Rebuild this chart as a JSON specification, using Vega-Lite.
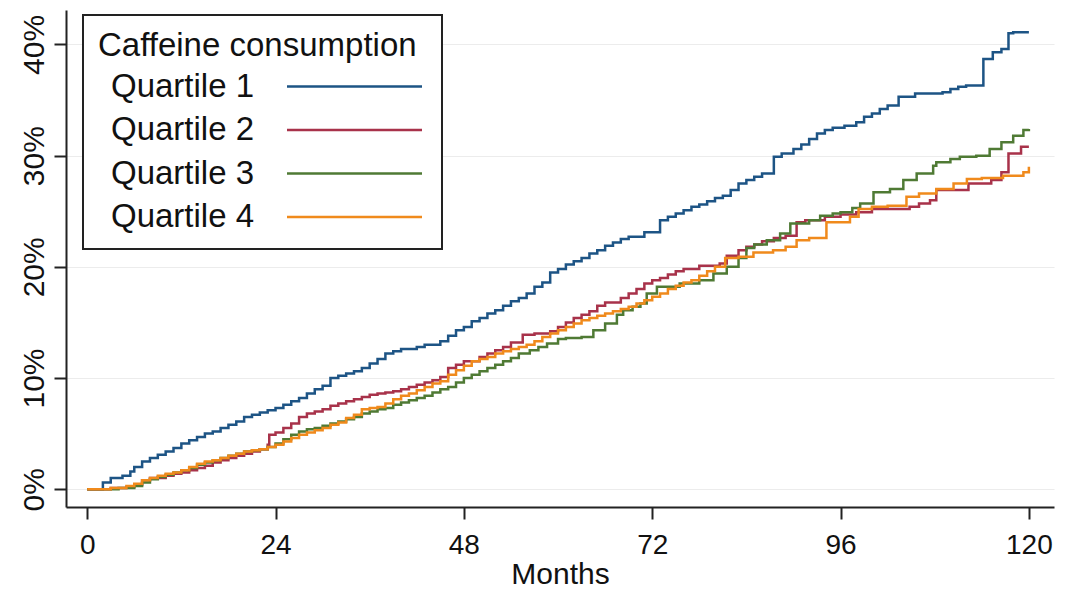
{
  "$schema": "https://vega.github.io/schema/vega-lite/v6.json",
  "autosize": {"type": "none"},
  "padding": {"left": 66, "top": 10, "right": 16, "bottom": 85},
  "width": 988,
  "height": 497,
  "background": "white",
  "config": {
    "font": "Liberation Sans",
    "view": {"stroke": null},
    "axis": {
      "domainColor": "#222222",
      "domainWidth": 2,
      "tickColor": "#222222",
      "tickWidth": 2,
      "tickSize": 12,
      "labelColor": "#111111",
      "titleColor": "#111111",
      "labelFont": "Liberation Sans",
      "titleFont": "Liberation Sans",
      "titleFontWeight": "normal",
      "gridColor": "#ececec",
      "gridWidth": 1.2
    },
    "legend": {
      "titleFont": "Liberation Sans",
      "labelFont": "Liberation Sans",
      "strokeWidth": 2
    }
  },
  "datasets": {
    "km": [
      {"q":"Quartile 1","m":0,"p":0},{"q":"Quartile 1","m":2,"p":0.6},{"q":"Quartile 1","m":3,"p":1.0},{"q":"Quartile 1","m":4.5,"p":1.2},{"q":"Quartile 1","m":5.5,"p":1.6},{"q":"Quartile 1","m":6,"p":2.0},{"q":"Quartile 1","m":7,"p":2.5},{"q":"Quartile 1","m":8,"p":2.8},{"q":"Quartile 1","m":9,"p":3.1},{"q":"Quartile 1","m":10,"p":3.4},{"q":"Quartile 1","m":11,"p":3.7},{"q":"Quartile 1","m":12,"p":4.1},{"q":"Quartile 1","m":13,"p":4.4},{"q":"Quartile 1","m":14,"p":4.7},{"q":"Quartile 1","m":15,"p":5.0},{"q":"Quartile 1","m":16,"p":5.2},{"q":"Quartile 1","m":17,"p":5.5},{"q":"Quartile 1","m":18,"p":5.8},{"q":"Quartile 1","m":19,"p":6.1},{"q":"Quartile 1","m":20,"p":6.5},{"q":"Quartile 1","m":21,"p":6.7},{"q":"Quartile 1","m":22,"p":6.9},{"q":"Quartile 1","m":23,"p":7.1},{"q":"Quartile 1","m":24,"p":7.3},{"q":"Quartile 1","m":25,"p":7.6},{"q":"Quartile 1","m":26,"p":7.9},{"q":"Quartile 1","m":27,"p":8.2},{"q":"Quartile 1","m":28,"p":8.6},{"q":"Quartile 1","m":29,"p":9.0},{"q":"Quartile 1","m":30,"p":9.3},{"q":"Quartile 1","m":31,"p":10.0},{"q":"Quartile 1","m":32,"p":10.2},{"q":"Quartile 1","m":33,"p":10.4},{"q":"Quartile 1","m":34,"p":10.6},{"q":"Quartile 1","m":35,"p":10.9},{"q":"Quartile 1","m":36,"p":11.3},{"q":"Quartile 1","m":37,"p":11.7},{"q":"Quartile 1","m":38,"p":12.2},{"q":"Quartile 1","m":39,"p":12.4},{"q":"Quartile 1","m":40,"p":12.6},{"q":"Quartile 1","m":42,"p":12.8},{"q":"Quartile 1","m":43,"p":13.0},{"q":"Quartile 1","m":45,"p":13.3},{"q":"Quartile 1","m":46,"p":13.8},{"q":"Quartile 1","m":47,"p":14.3},{"q":"Quartile 1","m":48,"p":14.6},{"q":"Quartile 1","m":49,"p":15.1},{"q":"Quartile 1","m":50,"p":15.4},{"q":"Quartile 1","m":51,"p":15.8},{"q":"Quartile 1","m":52,"p":16.1},{"q":"Quartile 1","m":53,"p":16.5},{"q":"Quartile 1","m":54,"p":16.9},{"q":"Quartile 1","m":55,"p":17.2},{"q":"Quartile 1","m":56,"p":17.6},{"q":"Quartile 1","m":57,"p":18.2},{"q":"Quartile 1","m":58,"p":18.6},{"q":"Quartile 1","m":59,"p":19.5},{"q":"Quartile 1","m":60,"p":19.8},{"q":"Quartile 1","m":61,"p":20.2},{"q":"Quartile 1","m":62,"p":20.5},{"q":"Quartile 1","m":63,"p":20.8},{"q":"Quartile 1","m":64,"p":21.2},{"q":"Quartile 1","m":65,"p":21.5},{"q":"Quartile 1","m":66,"p":21.9},{"q":"Quartile 1","m":67,"p":22.2},{"q":"Quartile 1","m":68,"p":22.5},{"q":"Quartile 1","m":69,"p":22.7},{"q":"Quartile 1","m":71,"p":23.1},{"q":"Quartile 1","m":73,"p":24.2},{"q":"Quartile 1","m":74,"p":24.5},{"q":"Quartile 1","m":75,"p":24.8},{"q":"Quartile 1","m":76,"p":25.1},{"q":"Quartile 1","m":77,"p":25.4},{"q":"Quartile 1","m":78,"p":25.6},{"q":"Quartile 1","m":79,"p":25.9},{"q":"Quartile 1","m":80,"p":26.2},{"q":"Quartile 1","m":81,"p":26.4},{"q":"Quartile 1","m":82,"p":26.9},{"q":"Quartile 1","m":83,"p":27.5},{"q":"Quartile 1","m":84,"p":27.8},{"q":"Quartile 1","m":85,"p":28.1},{"q":"Quartile 1","m":86,"p":28.4},{"q":"Quartile 1","m":87.5,"p":29.9},{"q":"Quartile 1","m":88.5,"p":30.2},{"q":"Quartile 1","m":90,"p":30.6},{"q":"Quartile 1","m":91,"p":31.0},{"q":"Quartile 1","m":92,"p":31.5},{"q":"Quartile 1","m":93,"p":32.0},{"q":"Quartile 1","m":94,"p":32.3},{"q":"Quartile 1","m":95,"p":32.5},{"q":"Quartile 1","m":96.5,"p":32.7},{"q":"Quartile 1","m":98,"p":33.0},{"q":"Quartile 1","m":99,"p":33.5},{"q":"Quartile 1","m":100,"p":33.8},{"q":"Quartile 1","m":101,"p":34.2},{"q":"Quartile 1","m":102,"p":34.5},{"q":"Quartile 1","m":103.4,"p":35.3},{"q":"Quartile 1","m":105.5,"p":35.6},{"q":"Quartile 1","m":109,"p":35.7},{"q":"Quartile 1","m":110,"p":36.0},{"q":"Quartile 1","m":111,"p":36.2},{"q":"Quartile 1","m":112,"p":36.3},{"q":"Quartile 1","m":114.2,"p":38.7},{"q":"Quartile 1","m":115.4,"p":39.3},{"q":"Quartile 1","m":116.5,"p":39.6},{"q":"Quartile 1","m":117.4,"p":41.0},{"q":"Quartile 1","m":118,"p":41.1},{"q":"Quartile 1","m":120,"p":41.1},

      {"q":"Quartile 2","m":0,"p":0},{"q":"Quartile 2","m":3,"p":0.1},{"q":"Quartile 2","m":5,"p":0.2},{"q":"Quartile 2","m":6,"p":0.4},{"q":"Quartile 2","m":7,"p":0.8},{"q":"Quartile 2","m":8,"p":1.0},{"q":"Quartile 2","m":10,"p":1.2},{"q":"Quartile 2","m":11,"p":1.4},{"q":"Quartile 2","m":12,"p":1.5},{"q":"Quartile 2","m":13,"p":1.7},{"q":"Quartile 2","m":14,"p":1.9},{"q":"Quartile 2","m":15,"p":2.1},{"q":"Quartile 2","m":16,"p":2.4},{"q":"Quartile 2","m":17,"p":2.6},{"q":"Quartile 2","m":18,"p":2.8},{"q":"Quartile 2","m":19,"p":3.0},{"q":"Quartile 2","m":20,"p":3.2},{"q":"Quartile 2","m":21,"p":3.4},{"q":"Quartile 2","m":22,"p":3.6},{"q":"Quartile 2","m":23,"p":4.0},{"q":"Quartile 2","m":23.2,"p":4.9},{"q":"Quartile 2","m":24,"p":5.1},{"q":"Quartile 2","m":25,"p":5.5},{"q":"Quartile 2","m":26,"p":5.9},{"q":"Quartile 2","m":27,"p":6.5},{"q":"Quartile 2","m":28,"p":6.8},{"q":"Quartile 2","m":29,"p":7.0},{"q":"Quartile 2","m":30,"p":7.2},{"q":"Quartile 2","m":31,"p":7.5},{"q":"Quartile 2","m":32,"p":7.7},{"q":"Quartile 2","m":33,"p":7.9},{"q":"Quartile 2","m":34,"p":8.1},{"q":"Quartile 2","m":35,"p":8.3},{"q":"Quartile 2","m":36,"p":8.5},{"q":"Quartile 2","m":37,"p":8.6},{"q":"Quartile 2","m":38,"p":8.7},{"q":"Quartile 2","m":39,"p":8.8},{"q":"Quartile 2","m":40,"p":9.0},{"q":"Quartile 2","m":41,"p":9.2},{"q":"Quartile 2","m":42,"p":9.4},{"q":"Quartile 2","m":43,"p":9.6},{"q":"Quartile 2","m":44,"p":9.8},{"q":"Quartile 2","m":45,"p":10.1},{"q":"Quartile 2","m":46,"p":10.9},{"q":"Quartile 2","m":47,"p":11.2},{"q":"Quartile 2","m":48,"p":11.5},{"q":"Quartile 2","m":50,"p":11.9},{"q":"Quartile 2","m":51,"p":12.2},{"q":"Quartile 2","m":52,"p":12.5},{"q":"Quartile 2","m":53,"p":12.8},{"q":"Quartile 2","m":54,"p":13.2},{"q":"Quartile 2","m":55.5,"p":13.9},{"q":"Quartile 2","m":57,"p":14.0},{"q":"Quartile 2","m":59,"p":14.2},{"q":"Quartile 2","m":60,"p":14.6},{"q":"Quartile 2","m":61,"p":15.0},{"q":"Quartile 2","m":62,"p":15.4},{"q":"Quartile 2","m":63,"p":15.7},{"q":"Quartile 2","m":64,"p":16.0},{"q":"Quartile 2","m":65,"p":16.5},{"q":"Quartile 2","m":66,"p":16.8},{"q":"Quartile 2","m":68,"p":17.2},{"q":"Quartile 2","m":69,"p":17.6},{"q":"Quartile 2","m":70,"p":18.0},{"q":"Quartile 2","m":71,"p":18.5},{"q":"Quartile 2","m":72,"p":18.8},{"q":"Quartile 2","m":73,"p":19.0},{"q":"Quartile 2","m":74,"p":19.3},{"q":"Quartile 2","m":75,"p":19.6},{"q":"Quartile 2","m":76,"p":19.8},{"q":"Quartile 2","m":78,"p":20.1},{"q":"Quartile 2","m":80.6,"p":20.3},{"q":"Quartile 2","m":81.5,"p":21.0},{"q":"Quartile 2","m":83,"p":21.5},{"q":"Quartile 2","m":84,"p":21.8},{"q":"Quartile 2","m":85,"p":22.0},{"q":"Quartile 2","m":86,"p":22.3},{"q":"Quartile 2","m":87.5,"p":22.6},{"q":"Quartile 2","m":89,"p":22.8},{"q":"Quartile 2","m":90.4,"p":24.0},{"q":"Quartile 2","m":91.5,"p":24.2},{"q":"Quartile 2","m":94,"p":24.5},{"q":"Quartile 2","m":96,"p":24.7},{"q":"Quartile 2","m":98,"p":24.9},{"q":"Quartile 2","m":100,"p":25.2},{"q":"Quartile 2","m":104.8,"p":25.4},{"q":"Quartile 2","m":106,"p":25.7},{"q":"Quartile 2","m":107.4,"p":26.0},{"q":"Quartile 2","m":108.2,"p":26.9},{"q":"Quartile 2","m":112.3,"p":27.5},{"q":"Quartile 2","m":115.2,"p":27.8},{"q":"Quartile 2","m":116.5,"p":28.5},{"q":"Quartile 2","m":117.4,"p":30.2},{"q":"Quartile 2","m":119,"p":30.8},{"q":"Quartile 2","m":120,"p":30.8},

      {"q":"Quartile 3","m":0,"p":0},{"q":"Quartile 3","m":4,"p":0.1},{"q":"Quartile 3","m":6,"p":0.3},{"q":"Quartile 3","m":7,"p":0.6},{"q":"Quartile 3","m":8,"p":0.9},{"q":"Quartile 3","m":9,"p":1.1},{"q":"Quartile 3","m":10,"p":1.3},{"q":"Quartile 3","m":11,"p":1.5},{"q":"Quartile 3","m":12,"p":1.7},{"q":"Quartile 3","m":13,"p":1.9},{"q":"Quartile 3","m":14,"p":2.2},{"q":"Quartile 3","m":15,"p":2.4},{"q":"Quartile 3","m":16,"p":2.6},{"q":"Quartile 3","m":17,"p":2.8},{"q":"Quartile 3","m":18,"p":3.0},{"q":"Quartile 3","m":19,"p":3.2},{"q":"Quartile 3","m":20,"p":3.4},{"q":"Quartile 3","m":21,"p":3.5},{"q":"Quartile 3","m":22,"p":3.6},{"q":"Quartile 3","m":23,"p":3.8},{"q":"Quartile 3","m":24,"p":4.1},{"q":"Quartile 3","m":25,"p":4.5},{"q":"Quartile 3","m":26,"p":4.9},{"q":"Quartile 3","m":27,"p":5.2},{"q":"Quartile 3","m":28,"p":5.4},{"q":"Quartile 3","m":29,"p":5.5},{"q":"Quartile 3","m":30,"p":5.7},{"q":"Quartile 3","m":31,"p":5.9},{"q":"Quartile 3","m":32,"p":6.1},{"q":"Quartile 3","m":33,"p":6.3},{"q":"Quartile 3","m":34,"p":6.5},{"q":"Quartile 3","m":35,"p":6.8},{"q":"Quartile 3","m":36,"p":7.0},{"q":"Quartile 3","m":37,"p":7.2},{"q":"Quartile 3","m":38,"p":7.3},{"q":"Quartile 3","m":39,"p":7.6},{"q":"Quartile 3","m":40,"p":7.8},{"q":"Quartile 3","m":41,"p":8.0},{"q":"Quartile 3","m":42,"p":8.2},{"q":"Quartile 3","m":43,"p":8.4},{"q":"Quartile 3","m":44,"p":8.7},{"q":"Quartile 3","m":45,"p":9.0},{"q":"Quartile 3","m":46,"p":9.2},{"q":"Quartile 3","m":47,"p":9.6},{"q":"Quartile 3","m":48,"p":10.0},{"q":"Quartile 3","m":49,"p":10.3},{"q":"Quartile 3","m":50,"p":10.6},{"q":"Quartile 3","m":51,"p":10.9},{"q":"Quartile 3","m":52,"p":11.2},{"q":"Quartile 3","m":53,"p":11.5},{"q":"Quartile 3","m":54,"p":11.8},{"q":"Quartile 3","m":55,"p":12.2},{"q":"Quartile 3","m":56.4,"p":12.5},{"q":"Quartile 3","m":57.5,"p":12.8},{"q":"Quartile 3","m":58.6,"p":13.1},{"q":"Quartile 3","m":60,"p":13.5},{"q":"Quartile 3","m":61,"p":13.6},{"q":"Quartile 3","m":63,"p":13.7},{"q":"Quartile 3","m":64.5,"p":14.3},{"q":"Quartile 3","m":66,"p":14.9},{"q":"Quartile 3","m":67.5,"p":15.7},{"q":"Quartile 3","m":68.3,"p":16.1},{"q":"Quartile 3","m":69.5,"p":16.4},{"q":"Quartile 3","m":70.5,"p":16.7},{"q":"Quartile 3","m":71.3,"p":17.6},{"q":"Quartile 3","m":72.6,"p":18.2},{"q":"Quartile 3","m":75.5,"p":18.5},{"q":"Quartile 3","m":78,"p":18.8},{"q":"Quartile 3","m":79.8,"p":19.4},{"q":"Quartile 3","m":81.5,"p":20.0},{"q":"Quartile 3","m":83,"p":20.8},{"q":"Quartile 3","m":84,"p":21.7},{"q":"Quartile 3","m":85,"p":22.0},{"q":"Quartile 3","m":86.6,"p":22.4},{"q":"Quartile 3","m":88.3,"p":23.0},{"q":"Quartile 3","m":89.6,"p":23.9},{"q":"Quartile 3","m":92,"p":24.2},{"q":"Quartile 3","m":93.4,"p":24.6},{"q":"Quartile 3","m":95,"p":24.8},{"q":"Quartile 3","m":96,"p":24.9},{"q":"Quartile 3","m":97.5,"p":25.3},{"q":"Quartile 3","m":98.5,"p":25.7},{"q":"Quartile 3","m":100.2,"p":26.7},{"q":"Quartile 3","m":102.3,"p":27.0},{"q":"Quartile 3","m":104,"p":27.8},{"q":"Quartile 3","m":105.7,"p":28.4},{"q":"Quartile 3","m":107.8,"p":29.1},{"q":"Quartile 3","m":108.2,"p":29.4},{"q":"Quartile 3","m":110,"p":29.7},{"q":"Quartile 3","m":111.2,"p":29.9},{"q":"Quartile 3","m":113.3,"p":30.0},{"q":"Quartile 3","m":115,"p":30.6},{"q":"Quartile 3","m":116.5,"p":31.2},{"q":"Quartile 3","m":118,"p":31.8},{"q":"Quartile 3","m":119.3,"p":32.3},{"q":"Quartile 3","m":120,"p":32.4},

      {"q":"Quartile 4","m":0,"p":0},{"q":"Quartile 4","m":3,"p":0.1},{"q":"Quartile 4","m":5,"p":0.3},{"q":"Quartile 4","m":6,"p":0.5},{"q":"Quartile 4","m":7,"p":0.8},{"q":"Quartile 4","m":8,"p":1.0},{"q":"Quartile 4","m":9,"p":1.2},{"q":"Quartile 4","m":10,"p":1.4},{"q":"Quartile 4","m":11,"p":1.5},{"q":"Quartile 4","m":12,"p":1.7},{"q":"Quartile 4","m":13,"p":2.0},{"q":"Quartile 4","m":14,"p":2.3},{"q":"Quartile 4","m":15,"p":2.5},{"q":"Quartile 4","m":16,"p":2.6},{"q":"Quartile 4","m":17,"p":2.8},{"q":"Quartile 4","m":18,"p":3.0},{"q":"Quartile 4","m":19,"p":3.2},{"q":"Quartile 4","m":20,"p":3.4},{"q":"Quartile 4","m":21,"p":3.5},{"q":"Quartile 4","m":22,"p":3.6},{"q":"Quartile 4","m":23,"p":3.8},{"q":"Quartile 4","m":24,"p":4.0},{"q":"Quartile 4","m":25,"p":4.3},{"q":"Quartile 4","m":26,"p":4.6},{"q":"Quartile 4","m":27,"p":4.9},{"q":"Quartile 4","m":28,"p":5.1},{"q":"Quartile 4","m":29,"p":5.3},{"q":"Quartile 4","m":30,"p":5.5},{"q":"Quartile 4","m":31,"p":5.8},{"q":"Quartile 4","m":32,"p":6.0},{"q":"Quartile 4","m":33,"p":6.4},{"q":"Quartile 4","m":34,"p":6.7},{"q":"Quartile 4","m":35,"p":7.2},{"q":"Quartile 4","m":36,"p":7.3},{"q":"Quartile 4","m":37,"p":7.4},{"q":"Quartile 4","m":38,"p":7.7},{"q":"Quartile 4","m":39,"p":8.1},{"q":"Quartile 4","m":40,"p":8.4},{"q":"Quartile 4","m":41,"p":8.6},{"q":"Quartile 4","m":42,"p":8.9},{"q":"Quartile 4","m":43,"p":9.2},{"q":"Quartile 4","m":44,"p":9.5},{"q":"Quartile 4","m":45,"p":9.7},{"q":"Quartile 4","m":46,"p":10.3},{"q":"Quartile 4","m":47,"p":10.7},{"q":"Quartile 4","m":48,"p":11.1},{"q":"Quartile 4","m":49,"p":11.5},{"q":"Quartile 4","m":50,"p":11.7},{"q":"Quartile 4","m":51,"p":11.9},{"q":"Quartile 4","m":52,"p":12.2},{"q":"Quartile 4","m":53,"p":12.4},{"q":"Quartile 4","m":54,"p":12.6},{"q":"Quartile 4","m":55,"p":12.8},{"q":"Quartile 4","m":56,"p":13.0},{"q":"Quartile 4","m":57,"p":13.3},{"q":"Quartile 4","m":58,"p":13.7},{"q":"Quartile 4","m":59,"p":14.0},{"q":"Quartile 4","m":60,"p":14.3},{"q":"Quartile 4","m":61,"p":14.6},{"q":"Quartile 4","m":62,"p":14.9},{"q":"Quartile 4","m":63,"p":15.2},{"q":"Quartile 4","m":64,"p":15.4},{"q":"Quartile 4","m":65,"p":15.6},{"q":"Quartile 4","m":66,"p":15.8},{"q":"Quartile 4","m":67,"p":16.0},{"q":"Quartile 4","m":68,"p":16.2},{"q":"Quartile 4","m":69,"p":16.4},{"q":"Quartile 4","m":70,"p":16.7},{"q":"Quartile 4","m":71,"p":17.0},{"q":"Quartile 4","m":72,"p":17.3},{"q":"Quartile 4","m":73,"p":17.6},{"q":"Quartile 4","m":74,"p":18.0},{"q":"Quartile 4","m":75,"p":18.3},{"q":"Quartile 4","m":76,"p":18.6},{"q":"Quartile 4","m":77,"p":18.8},{"q":"Quartile 4","m":78,"p":19.2},{"q":"Quartile 4","m":79,"p":19.6},{"q":"Quartile 4","m":80,"p":20.0},{"q":"Quartile 4","m":81.3,"p":20.8},{"q":"Quartile 4","m":83,"p":20.9},{"q":"Quartile 4","m":84.9,"p":21.3},{"q":"Quartile 4","m":87.4,"p":21.5},{"q":"Quartile 4","m":89,"p":21.8},{"q":"Quartile 4","m":90.4,"p":22.4},{"q":"Quartile 4","m":92,"p":22.6},{"q":"Quartile 4","m":94.2,"p":24.0},{"q":"Quartile 4","m":97.2,"p":24.5},{"q":"Quartile 4","m":98.3,"p":25.2},{"q":"Quartile 4","m":100,"p":25.4},{"q":"Quartile 4","m":102,"p":25.5},{"q":"Quartile 4","m":104.4,"p":26.3},{"q":"Quartile 4","m":106,"p":26.6},{"q":"Quartile 4","m":108.2,"p":27.0},{"q":"Quartile 4","m":110.4,"p":27.5},{"q":"Quartile 4","m":112.1,"p":27.9},{"q":"Quartile 4","m":114,"p":28.0},{"q":"Quartile 4","m":116.7,"p":28.2},{"q":"Quartile 4","m":119.3,"p":28.5},{"q":"Quartile 4","m":120,"p":29.0}
    ]
  },
  "data": {"name": "km"},
  "mark": {"type": "line", "interpolate": "step-after", "strokeWidth": 2.5},
  "encoding": {
    "x": {
      "field": "m",
      "type": "quantitative",
      "scale": {"domain": [-2.7, 123.2], "nice": false, "zero": false},
      "axis": {
        "values": [0, 24, 48, 72, 96, 120],
        "title": "Months",
        "titleFontSize": 30,
        "titlePadding": 0,
        "labelFontSize": 28,
        "labelPadding": 12,
        "grid": false,
        "labelFlush": false
      }
    },
    "y": {
      "field": "p",
      "type": "quantitative",
      "scale": {"domain": [-1.6, 43.1], "nice": false, "zero": false},
      "axis": {
        "values": [0, 10, 20, 30, 40],
        "title": null,
        "labelExpr": "datum.value + '%'",
        "labelFontSize": 30,
        "labelAngle": -90,
        "labelAlign": "center",
        "labelBaseline": "alphabetic",
        "labelPadding": 11,
        "grid": true
      }
    },
    "color": {
      "field": "q",
      "type": "nominal",
      "scale": {
        "domain": ["Quartile 1", "Quartile 2", "Quartile 3", "Quartile 4"],
        "range": ["#1d5485", "#a8324a", "#4f7a34", "#f08a1c"]
      },
      "legend": {
        "title": "Caffeine consumption",
        "orient": "none",
        "legendX": 17,
        "legendY": 5,
        "padding": 15,
        "fillColor": "white",
        "strokeColor": "#222222",
        "titleFontSize": 33,
        "titleFontWeight": "normal",
        "titleColor": "#111111",
        "titleLimit": 600,
        "titlePadding": 7,
        "labelFontSize": 33,
        "labelColor": "#111111",
        "labelLimit": 600,
        "labelOffset": -260,
        "symbolType": "M-5,0H5",
        "symbolSize": 729,
        "symbolStrokeWidth": 2.5,
        "symbolOffset": 240,
        "rowPadding": 9.5
      }
    }
  }
}
